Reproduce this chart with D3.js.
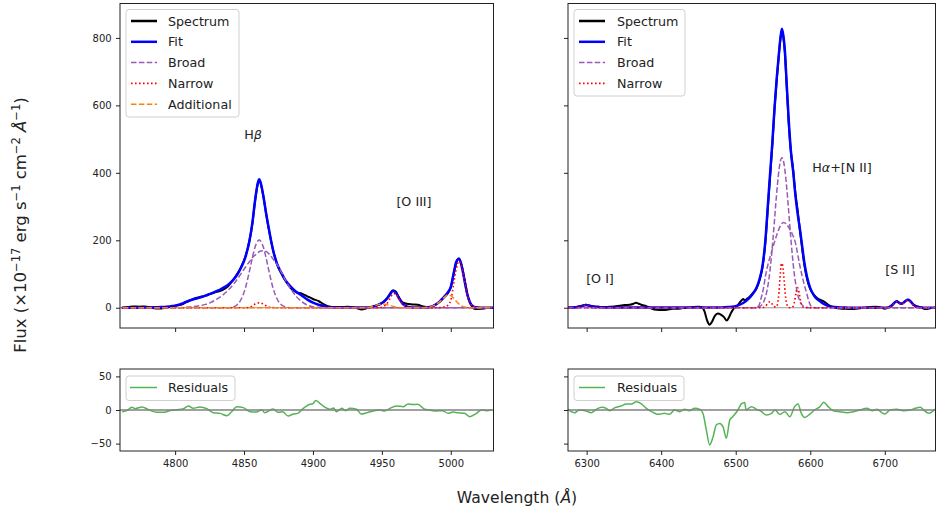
<!DOCTYPE html>
<html><head><meta charset="utf-8">
<script src="https://cdn.jsdelivr.net/npm/d3@7"></script>
<style>
body{margin:0;background:#fff;}
svg{display:block;font-family:"DejaVu Sans",sans-serif;}
</style></head><body>
<svg id="c" width="936" height="513"></svg>
<script>
// ---------------- DATA (wavelength Å, flux 1e-17) ----------------
const ticksXL = [4800, 4850, 4900, 4950, 5000];
const ticksXR = [6300, 6400, 6500, 6600, 6700];
const ticksYTop = [0, 200, 400, 600, 800];
const ticksYRes = [-50, 0, 50];
const legendTopL = ["Spectrum", "Fit", "Broad", "Narrow", "Additional"];
const legendTopR = ["Spectrum", "Fit", "Broad", "Narrow"];
const legendRes = ["Residuals"];

// Hβ + [O III] window
const specL = [[4762,0],[4766,2],[4770,4],[4774,3],[4778,4],[4782,1],[4786,-2],[4790,-2],[4794,1],[4798,4],[4802,7],[4806,12],[4810,20],[4814,28],[4818,32],[4822,36],[4826,42],[4830,47],[4834,52],[4838,62],[4842,82],[4845,100],[4848,122],[4851,152],[4854,200],[4856,248],[4858,316],[4860,368],[4861,378],[4862,370],[4864,330],[4866,280],[4868,232],[4871,172],[4874,128],[4877,102],[4880,80],[4884,58],[4888,46],[4892,42],[4896,34],[4900,26],[4904,20],[4908,10],[4912,3],[4916,2],[4920,2],[4925,3],[4930,1],[4935,-5],[4940,0],[4944,4],[4948,9],[4951,17],[4954,30],[4956,42],[4958,52],[4960,48],[4962,34],[4965,16],[4968,12],[4972,10],[4976,9],[4980,4],[4984,2],[4988,7],[4992,18],[4995,30],[4998,44],[5000,60],[5002,98],[5004,134],[5006,146],[5008,124],[5010,84],[5012,40],[5015,6],[5018,-4],[5022,-3],[5026,-1],[5030,0]];
const fitL = [[4762,0],[4766,0],[4770,0],[4774,0.5],[4778,0.5],[4782,1],[4786,1.5],[4790,2],[4794,3],[4798,5],[4802,8],[4806,14],[4810,21],[4814,26],[4818,30],[4822,36],[4826,42],[4830,49],[4834,57],[4838,67],[4842,82],[4845,98],[4848,120],[4851,150],[4854,200],[4856,250],[4858,318],[4860,370],[4861,381],[4862,372],[4864,332],[4866,280],[4868,234],[4871,172],[4874,130],[4877,104],[4880,82],[4884,62],[4888,47],[4892,36],[4896,24],[4900,15],[4904,9],[4908,5],[4912,2],[4916,1],[4920,0.5],[4930,0.5],[4940,1],[4944,4],[4948,10],[4951,16],[4954,28],[4956,40],[4958,50],[4960,46],[4962,31],[4965,12],[4968,4],[4972,1],[4980,0.5],[4984,1.5],[4988,7],[4992,19],[4995,32],[4998,46],[5000,62],[5002,100],[5004,136],[5006,145],[5008,122],[5010,80],[5012,40],[5015,9],[5018,1.5],[5022,0],[5030,0]];
const broadNarrowL = [[4762,0],[4838,0],[4842,2],[4845,9],[4848,26],[4851,59],[4854,110],[4856,148],[4858,180],[4860,198],[4861,201],[4862,198],[4864,180],[4866,148],[4868,110],[4871,59],[4874,26],[4877,9],[4880,2.5],[4884,0],[5030,0]];
const broadWideL = [[4762,0],[4802,0],[4806,1],[4810,2],[4814,4],[4818,6],[4822,10],[4826,16],[4830,25],[4834,36],[4838,50],[4842,68],[4845,84],[4848,102],[4851,120],[4854,137],[4856,148],[4858,156],[4860,163],[4862,168],[4864,169],[4866,167],[4868,160],[4871,145],[4874,128],[4877,106],[4880,82],[4884,55],[4888,33],[4892,18],[4896,8],[4900,3],[4904,1],[4908,0],[5030,0]];
const narrowL = [[4762,0],[4852,0],[4854,1],[4856,5],[4858,11],[4860,14],[4861,14.5],[4862,14],[4864,11],[4866,6],[4868,2],[4871,0.5],[4874,0],[4948,0],[4951,3],[4954,14],[4956,28],[4958,41],[4960,42],[4962,29],[4965,11],[4968,3],[4972,0],[4990,0],[4992,0.5],[4995,2],[4998,8],[5000,22],[5002,68],[5004,116],[5006,138],[5008,120],[5010,78],[5012,39],[5015,8],[5018,1],[5022,0],[5030,0]];
const additionalL = [[4762,0],[4936,0],[4940,1],[4944,5],[4948,10],[4951,11],[4954,9],[4956,7],[4958,4],[4960,2],[4962,0.5],[4966,0],[4980,0],[4984,2],[4988,7],[4992,18],[4995,30],[4998,38],[5000,36],[5002,29],[5004,19],[5006,11],[5008,5],[5010,2],[5012,0.5],[5015,0],[5030,0]];
const residL = [[4762,-2.5],[4765,-1],[4768.6,4],[4771,2],[4776,4.5],[4780.7,0.5],[4786.7,-3.5],[4791.5,-3.5],[4796,-1],[4801,0.5],[4806,2],[4809.7,6],[4813,2.5],[4818,4.5],[4823,2],[4827.8,-4],[4832.6,-5],[4837.5,-8.5],[4841,-2.5],[4844.7,5],[4849.5,3.5],[4854.3,-2.5],[4859,-3],[4862.8,0.5],[4865,-4],[4871,1.5],[4874.9,-3.5],[4878,-2.5],[4882,-9],[4885.7,-6],[4889,-5],[4893,2.5],[4896.6,7.5],[4900.2,10],[4902,14],[4905,10],[4908.7,4],[4912.3,1],[4915,3],[4917,-2.5],[4921,2.5],[4923.5,-1],[4926.8,2.5],[4931.6,1],[4935,-6],[4939,-4],[4943.7,-1.5],[4948.5,0],[4952,-1.5],[4955.8,2.5],[4960.6,6],[4965.4,5],[4969,9],[4972.6,8],[4976,8.5],[4981,1],[4984.5,0],[4989.4,-1.5],[4994,-1],[4998,-5],[5001.6,-3],[5005,-4],[5010,-5],[5013.8,-10],[5018.6,-5],[5022.2,0],[5026,-1],[5029.5,0]];

// Hα + [N II] + [S II] window
const specR = [[6275,0],[6282,1],[6288,3],[6294,6],[6299,9],[6304,6],[6310,4],[6316,3],[6323,2],[6330,3],[6337,4],[6344,6],[6351,8],[6358,9],[6363,12],[6366,15],[6370,12],[6373,9],[6380,5],[6387,-2],[6394,-6],[6401,-7],[6408,-6],[6415,-3],[6422,-3],[6429,-1],[6436,0],[6443,2],[6449,3],[6454,2],[6458,-10],[6462,-40],[6465,-50],[6468,-42],[6472,-24],[6476,-17],[6480,-20],[6484,-27],[6488,-38],[6491,-28],[6494,-14],[6498,0],[6502,5],[6507,20],[6510,26],[6512,22],[6516,28],[6520,36],[6524,46],[6528,58],[6532,82],[6536,122],[6540,200],[6543,293],[6546,385],[6549,478],[6552,588],[6555,675],[6558,752],[6560,798],[6562,822],[6564,800],[6566,755],[6568,672],[6571,550],[6574,463],[6577,410],[6580,340],[6583,290],[6586,232],[6589,178],[6592,128],[6596,82],[6600,55],[6605,38],[6610,27],[6615,22],[6620,16],[6626,6],[6633,1],[6640,-2],[6648,-3],[6656,-4],[6664,-2],[6672,0],[6680,2],[6688,3],[6695,1],[6700,-3],[6706,2],[6710,8],[6714,17],[6716,19],[6719,15],[6722,12],[6725,15],[6729,22],[6731,24],[6734,20],[6738,10],[6742,5],[6748,2],[6755,-4],[6762,-1],[6768,1]];
const fitR = [[6275,1],[6282,1],[6288,2],[6294,5],[6299,8],[6304,6],[6310,3],[6316,2],[6323,1],[6330,1],[6400,0.5],[6480,1],[6490,2],[6498,4],[6504,8],[6510,14],[6516,24],[6520,33],[6524,44],[6528,60],[6532,85],[6536,125],[6540,205],[6543,300],[6546,395],[6549,485],[6552,590],[6555,680],[6558,755],[6560,800],[6562,827],[6564,805],[6566,760],[6568,680],[6571,560],[6574,465],[6577,405],[6580,335],[6583,280],[6586,235],[6589,185],[6592,135],[6596,88],[6600,58],[6605,36],[6610,24],[6615,16],[6620,9],[6626,4],[6633,2],[6640,1],[6648,0.5],[6656,0],[6700,0],[6706,2],[6710,8],[6714,17],[6716,19],[6719,15],[6722,12],[6725,15],[6729,22],[6731,24],[6734,20],[6738,10],[6742,4],[6748,1],[6755,0],[6768,0]];
const broadNarrowR = [[6275,0],[6524,0],[6528,1],[6532,3.5],[6535,8.5],[6538,20],[6541,41],[6544,77],[6546,111],[6548,154],[6550,204],[6552,259],[6554,315],[6556,366],[6558,408],[6560,435],[6562,445],[6564,435],[6566,408],[6568,366],[6570,315],[6572,259],[6574,204],[6576,154],[6578,111],[6580,77],[6583,41],[6586,20],[6589,8.5],[6592,3.5],[6596,1],[6600,0],[6768,0]];
const broadWideR = [[6275,0],[6524,0],[6528,2],[6531,6],[6534,28],[6537,55],[6540,95],[6544,135],[6548,165],[6552,195],[6556,222],[6560,243],[6564,253],[6568,248],[6572,235],[6576,218],[6580,193],[6583,160],[6586,125],[6589,95],[6592,68],[6595,45],[6598,20],[6601,5],[6604,1],[6608,0],[6768,0]];
const narrowR = [[6275,0],[6290,0],[6295,3],[6299,8],[6303,4],[6307,0],[6536,0],[6540,4],[6543,14],[6546,18],[6548,14],[6551,4],[6554,2],[6556,10],[6558,45],[6560,105],[6561,128],[6562,132],[6563,125],[6565,80],[6567,30],[6569,7],[6571,1],[6574,0],[6577,4],[6579,20],[6581,45],[6583,60],[6585,45],[6587,20],[6589,5],[6592,0],[6706,0],[6710,7],[6714,16],[6716,18],[6719,13],[6722,10],[6725,13],[6729,20],[6731,22],[6734,17],[6738,7],[6742,1],[6746,0],[6768,0]];
const residR = [[6275,1],[6284,-4],[6290,0],[6299.6,-1.5],[6306,-4],[6313,1],[6320,4],[6327,2],[6331,-1],[6338,3.5],[6346.5,6],[6353,9],[6360,9],[6366.7,12.4],[6373.5,9],[6380,2.5],[6389,-3.5],[6395.7,-6.5],[6404.6,-5],[6411,-6.5],[6418,0],[6425,-2.5],[6431.6,1],[6438,-1],[6445,2.5],[6452,1],[6456,-5],[6460.6,-30],[6465,-52],[6469.6,-40],[6474,-22],[6478.5,-20],[6483,-25],[6487.5,-42],[6492,-15],[6496,-10],[6503,0],[6507.6,9],[6512,11],[6514,0],[6521,5],[6528,1],[6534.6,-2.5],[6541,-7.5],[6548,-5],[6552.6,0],[6559.3,-6.5],[6566,-2.5],[6572.5,-10],[6579,5],[6583.6,9],[6588,-5],[6592.6,-11],[6599.5,-6],[6606,0],[6613,5],[6618,11.5],[6624,5],[6631,-1],[6640,-2.5],[6649,-4],[6658,-2.5],[6667,0],[6676,2.5],[6683,-1],[6689.6,1],[6696,-4],[6700,-6],[6707,0],[6716,1],[6725,-1],[6734,0],[6741,2.5],[6747.6,4],[6752,0],[6759,-5],[6763.6,-2.5],[6769,2.5]];

// ---------------- DRAWING ----------------
const FONT = '"DejaVu Sans", sans-serif';
const TXT = '#222';
const C = {spec:'#000000', fit:'#0000ff', broad:'#9b59b6', narrow:'#ff0000', add:'#ff7f0e', res:'#55b355', zero:'#999999'};
const svg = d3.select('#c');

const xL = d3.scaleLinear().domain([4760, 5031]).range([120, 493.5]);
const xR = d3.scaleLinear().domain([6275, 6768]).range([568, 935.5]);
const yTop = d3.scaleLinear().domain([-60, 902]).range([328, 3.5]);
const yRes = d3.scaleLinear().domain([-61, 61]).range([451, 369]);

const defs = svg.append('defs');
let clipN = 0;
function makeClip(x, y) {
  const id = 'clip' + (clipN++);
  const [x0, x1] = x.range(), [y1, y0] = y.range();
  defs.append('clipPath').attr('id', id).append('rect')
    .attr('x', x0).attr('y', y0).attr('width', x1 - x0).attr('height', y1 - y0);
  return id;
}

function styleAxis(g) {
  g.select('.domain').remove();
  g.selectAll('.tick line').attr('stroke', '#222').attr('stroke-width', 1);
  g.selectAll('.tick text').attr('fill', TXT).attr('font-family', FONT).attr('font-size', 10);
}

function drawAxes(x, y, xt, yt, xLabels, yLabels) {
  const [x0, x1] = x.range(), [y1, y0] = y.range();
  const gx = svg.append('g').attr('transform', `translate(0,${y1})`)
    .call(d3.axisBottom(x).tickValues(xt).tickSize(4).tickPadding(5)
      .tickFormat(xLabels ? d3.format('d') : () => ''));
  styleAxis(gx);
  const gy = svg.append('g').attr('transform', `translate(${x0},0)`)
    .call(d3.axisLeft(y).tickValues(yt).tickSize(4).tickPadding(4.3)
      .tickFormat(yLabels ? d3.format('d') : () => ''));
  styleAxis(gy);
}

function frame(x, y) {
  const [x0, x1] = x.range(), [y1, y0] = y.range();
  svg.append('rect').attr('x', x0).attr('y', y0).attr('width', x1 - x0).attr('height', y1 - y0)
    .attr('fill', 'none').attr('stroke', '#222').attr('stroke-width', 1);
}

function series(g, x, y, data, color, width, dash) {
  const line = d3.line().x(d => x(d[0])).y(d => y(d[1])).curve(d3.curveMonotoneX);
  const p = g.append('path').datum(data).attr('d', line).attr('fill', 'none')
    .attr('stroke', color).attr('stroke-width', width)
    .attr('stroke-linejoin', 'round').attr('stroke-linecap', dash ? 'butt' : 'round');
  if (dash) p.attr('stroke-dasharray', dash);
  return p;
}

const DASH = '5.5,2.4', DOT = '1.6,2.4';

function topPanel(x, spec, fit, broads, narrow, add) {
  const g = svg.append('g').attr('clip-path', `url(#${makeClip(x, yTop)})`);
  g.append('line').attr('x1', x.range()[0]).attr('x2', x.range()[1])
    .attr('y1', yTop(0)).attr('y2', yTop(0)).attr('stroke', C.zero).attr('stroke-width', 1.2);
  series(g, x, yTop, spec, C.spec, 2);
  series(g, x, yTop, fit, C.fit, 2.5);
  broads.forEach(b => series(g, x, yTop, b, C.broad, 1.5, DASH));
  series(g, x, yTop, narrow, C.narrow, 1.6, DOT);
  if (add) series(g, x, yTop, add, C.add, 1.5, DASH);
}

function resPanel(x, res) {
  const g = svg.append('g').attr('clip-path', `url(#${makeClip(x, yRes)})`);
  series(g, x, yRes, res, C.res, 1.5);
  g.append('line').attr('x1', x.range()[0]).attr('x2', x.range()[1])
    .attr('y1', yRes(0)).attr('y2', yRes(0)).attr('stroke', '#808080').attr('stroke-width', 1.5);
}

topPanel(xL, specL, fitL, [broadNarrowL, broadWideL], narrowL, additionalL);
topPanel(xR, specR, fitR, [broadNarrowR, broadWideR], narrowR, null);
resPanel(xL, residL);
resPanel(xR, residR);

drawAxes(xL, yTop, ticksXL, ticksYTop, false, true);
drawAxes(xR, yTop, ticksXR, ticksYTop, false, false);
drawAxes(xL, yRes, ticksXL, ticksYRes, true, true);
drawAxes(xR, yRes, ticksXR, ticksYRes, true, false);
frame(xL, yTop); frame(xR, yTop); frame(xL, yRes); frame(xR, yRes);

// legends
const styleMap = {
  Spectrum: {c: C.spec, w: 2.5}, Fit: {c: C.fit, w: 2.5},
  Broad: {c: C.broad, w: 1.5, d: DASH}, Narrow: {c: C.narrow, w: 1.6, d: DOT},
  Additional: {c: C.add, w: 1.5, d: DASH}, Residuals: {c: C.res, w: 1.5}
};
function legend(items, bx, by, bw, bh, firstY, step, hx0, hx1, tx) {
  const g = svg.append('g');
  g.append('rect').attr('x', bx).attr('y', by).attr('width', bw).attr('height', bh)
    .attr('rx', 3).attr('fill', 'rgba(255,255,255,0.85)').attr('stroke', '#d0d0d0').attr('stroke-width', 1);
  items.forEach((name, i) => {
    const s = styleMap[name], yy = firstY + i * step;
    const l = g.append('line').attr('x1', hx0).attr('x2', hx1).attr('y1', yy).attr('y2', yy)
      .attr('stroke', s.c).attr('stroke-width', s.w);
    if (s.d) l.attr('stroke-dasharray', s.d);
    g.append('text').attr('x', tx).attr('y', yy).attr('dy', '0.36em')
      .attr('font-family', FONT).attr('font-size', 12.7).attr('fill', TXT).text(name);
  });
}
legend(legendTopL, 126, 9.5, 113, 107.5, 21, 20.8, 131, 157, 168);
legend(legendTopR, 574, 9.5, 111, 86.5, 21, 20.8, 579, 605, 617);
legend(legendRes, 126, 376, 109, 24.5, 387.5, 20.8, 130, 157, 168);
legend(legendRes, 574, 376, 110, 24.5, 387.5, 20.8, 579, 605, 617);

// line annotations
function annot(x, y, parts) {
  const t = svg.append('text').attr('x', x).attr('y', y).attr('text-anchor', 'middle')
    .attr('font-family', FONT).attr('font-size', 12.7).attr('fill', TXT);
  parts.forEach(p => {
    const s = t.append('tspan').text(p.t);
    if (p.i) s.attr('font-style', 'italic');
  });
}
annot(253, 139, [{t: 'H'}, {t: 'β', i: true}]);
annot(414, 206, [{t: '[O III]'}]);
annot(600, 283, [{t: '[O I]'}]);
annot(842, 172, [{t: 'H'}, {t: 'α', i: true}, {t: '+[N II]'}]);
annot(900, 274, [{t: '[S II]'}]);

// axis titles
const xt = svg.append('text').attr('x', 517).attr('y', 503).attr('text-anchor', 'middle')
  .attr('font-family', FONT).attr('font-size', 15.6).attr('fill', TXT);
xt.append('tspan').text('Wavelength (');
xt.append('tspan').attr('font-style', 'italic').text('Å');
xt.append('tspan').text(')');

const yt = svg.append('text').attr('transform', 'translate(26,225) rotate(-90)')
  .attr('text-anchor', 'middle').attr('font-family', FONT).attr('font-size', 16.5).attr('fill', TXT);
function sup(t) { yt.append('tspan').attr('dy', -6.5).attr('font-size', 11.5).text(t); }
function base(t) { yt.append('tspan').attr('dy', 6.5).text(t); }
yt.append('tspan').text('Flux (×10');
sup('−17'); base(' erg s');
sup('−1'); base(' cm');
sup('−2');
yt.append('tspan').attr('dy', 6.5).text(' ');
yt.append('tspan').attr('font-style', 'italic').text('Å');
sup('−1'); base(')');
</script>
</body></html>
